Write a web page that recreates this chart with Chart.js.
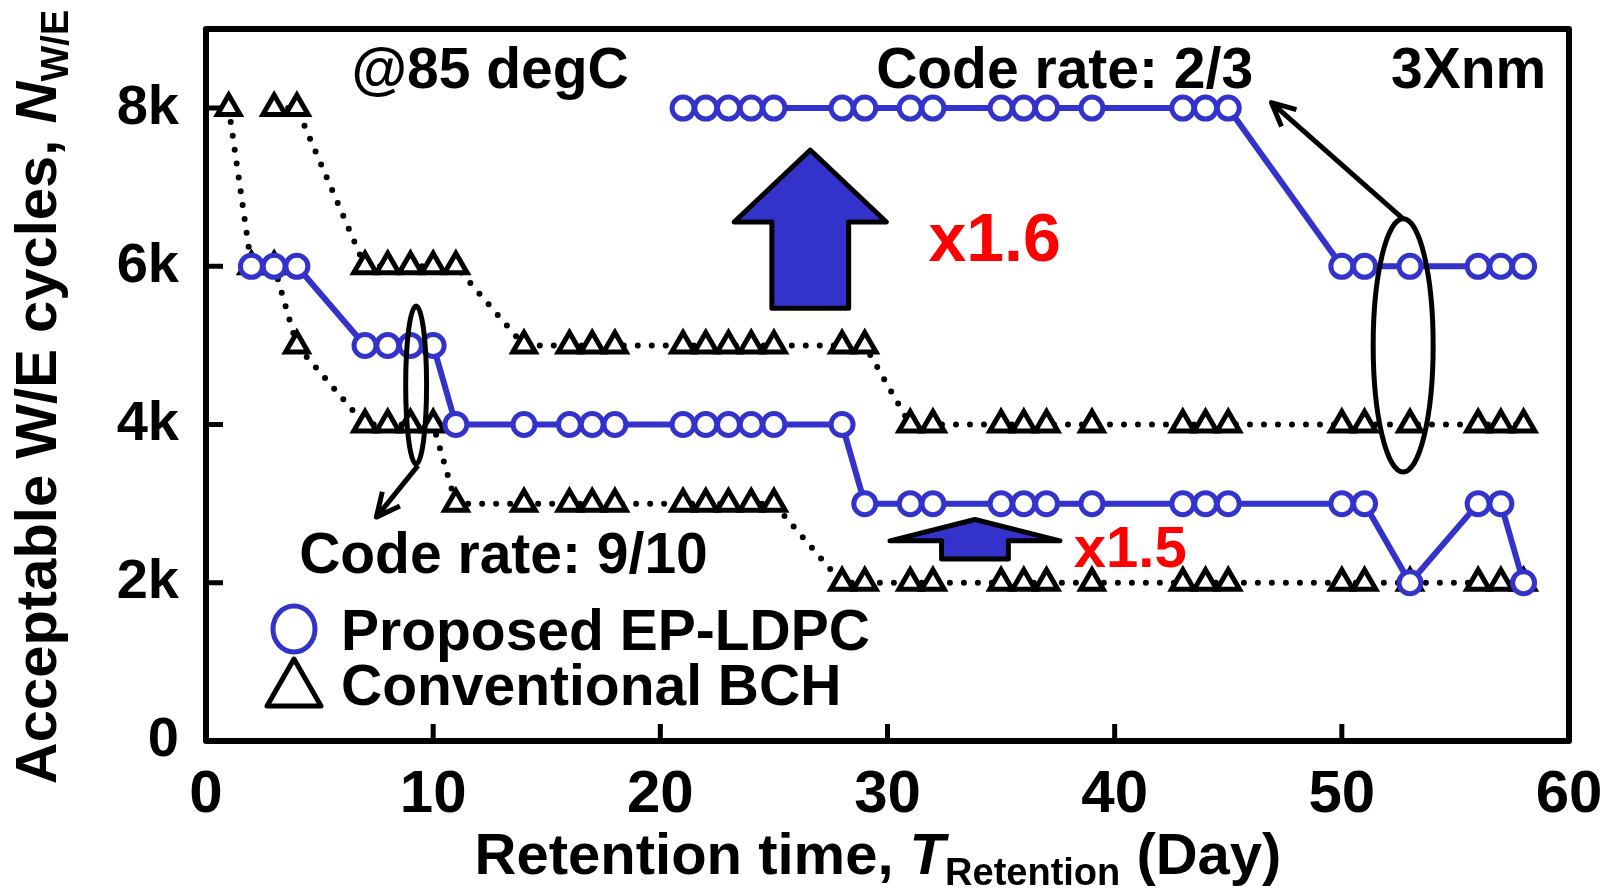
<!DOCTYPE html>
<html>
<head>
<meta charset="utf-8">
<script src="https://cdn.jsdelivr.net/npm/chart.js@4.4.1/dist/chart.umd.min.js"></script>
<style>
  html, body { margin: 0; padding: 0; background: #fff; }
  #wrap { width: 1619px; height: 889px; }
</style>
</head>
<body>
<div id="wrap"><canvas id="weChart"></canvas></div>
<script>
const FONT = '"Liberation Sans", Arial, sans-serif';
const BLUE = '#3333CC';

const xTicks = [0, 10, 20, 30, 40, 50, 60];
const yTicks = [0, 2000, 4000, 6000, 8000];

// Proposed EP-LDPC, code rate 9/10
const ldpcDays910 = [2, 3, 4, 7, 8, 9, 10, 11, 14, 16, 17, 18, 21, 22, 23, 24, 25, 28,
  29, 31, 32, 35, 36, 37, 39, 43, 44, 45, 50, 51, 53, 56, 57, 58];
const ldpcCycles910 = [6000, 6000, 6000, 5000, 5000, 5000, 5000, 4000, 4000, 4000, 4000, 4000,
  4000, 4000, 4000, 4000, 4000, 4000, 3000, 3000, 3000, 3000, 3000, 3000, 3000, 3000, 3000, 3000,
  3000, 3000, 2000, 3000, 3000, 2000];

// Proposed EP-LDPC, code rate 2/3
const ldpcDays23 = [21, 22, 23, 24, 25, 28, 29, 31, 32, 35, 36, 37, 39, 43, 44, 45, 50, 51, 53, 56, 57, 58];
const ldpcCycles23 = [8000, 8000, 8000, 8000, 8000, 8000, 8000, 8000, 8000, 8000, 8000, 8000, 8000,
  8000, 8000, 8000, 6000, 6000, 6000, 6000, 6000, 6000];

// Conventional BCH, code rate 9/10
const bchDays910 = [1, 2, 3, 4, 7, 8, 9, 10, 11, 14, 16, 17, 18, 21, 22, 23, 24, 25, 28, 29,
  31, 32, 35, 36, 37, 39, 43, 44, 45, 50, 51, 53, 56, 57, 58];
const bchCycles910 = [8000, 6000, 6000, 5000, 4000, 4000, 4000, 4000, 3000, 3000, 3000, 3000, 3000,
  3000, 3000, 3000, 3000, 3000, 2000, 2000, 2000, 2000, 2000, 2000, 2000, 2000, 2000, 2000, 2000,
  2000, 2000, 2000, 2000, 2000, 2000];

// Conventional BCH, code rate 2/3
const bchDays23 = [3, 4, 7, 8, 9, 10, 11, 14, 16, 17, 18, 21, 22, 23, 24, 25, 28, 29,
  31, 32, 35, 36, 37, 39, 43, 44, 45, 50, 51, 53, 56, 57, 58];
const bchCycles23 = [8000, 8000, 6000, 6000, 6000, 6000, 6000, 5000, 5000, 5000, 5000, 5000, 5000,
  5000, 5000, 5000, 5000, 5000, 4000, 4000, 4000, 4000, 4000, 4000, 4000, 4000, 4000, 4000, 4000,
  4000, 4000, 4000, 4000];

const pts = (xs, ys) => xs.map((x, i) => ({ x, y: ys[i] }));

const ldpcStyle = {
  borderColor: BLUE, borderWidth: 6,
  pointStyle: 'circle', pointRadius: 11, pointBorderWidth: 5,
  pointBorderColor: BLUE, pointBackgroundColor: '#fff', tension: 0
};
const bchStyle = {
  borderColor: '#000', borderWidth: 6, borderDash: [0, 14], borderCapStyle: 'round',
  pointStyle: 'triangle', pointRadius: 13, pointBorderWidth: 5,
  pointBorderColor: '#000', pointBackgroundColor: '#fff', tension: 0
};

function richText(ctx, parts, x, y) {
  let total = 0;
  parts.forEach(p => { ctx.font = p.font; p.w = ctx.measureText(p.text).width; total += p.w; });
  let cx = x - total / 2;
  ctx.textAlign = 'left';
  ctx.textBaseline = 'alphabetic';
  parts.forEach(p => { ctx.font = p.font; ctx.fillText(p.text, cx, y + (p.dy || 0)); cx += p.w; });
}

function arrowLine(ctx, x1, y1, x2, y2) {
  const a = Math.atan2(y2 - y1, x2 - x1), h = 26;
  ctx.beginPath();
  ctx.moveTo(x1, y1); ctx.lineTo(x2, y2);
  ctx.moveTo(x2 - h * Math.cos(a - 0.45), y2 - h * Math.sin(a - 0.45));
  ctx.lineTo(x2, y2);
  ctx.lineTo(x2 - h * Math.cos(a + 0.45), y2 - h * Math.sin(a + 0.45));
  ctx.stroke();
}

function blockArrow(ctx, X, Y, a) {
  ctx.beginPath();
  ctx.moveTo(X(a.xc), Y(a.tip));
  ctx.lineTo(X(a.xc + a.hw), Y(a.base));
  ctx.lineTo(X(a.xc + a.sw), Y(a.base));
  ctx.lineTo(X(a.xc + a.sw), Y(a.bottom));
  ctx.lineTo(X(a.xc - a.sw), Y(a.bottom));
  ctx.lineTo(X(a.xc - a.sw), Y(a.base));
  ctx.lineTo(X(a.xc - a.hw), Y(a.base));
  ctx.closePath();
  ctx.fillStyle = BLUE;
  ctx.fill();
  ctx.lineWidth = 5;
  ctx.strokeStyle = '#000';
  ctx.stroke();
}

const decorations = {
  id: 'decorations',
  afterDraw(chart) {
    const ctx = chart.ctx;
    const { left, right, top, bottom } = chart.chartArea;
    const X = v => chart.scales.x.getPixelForValue(v);
    const Y = v => chart.scales.y.getPixelForValue(v);
    ctx.save();
    ctx.strokeStyle = '#000';
    ctx.fillStyle = '#000';
    ctx.lineCap = 'butt';

    // frame and inward ticks
    ctx.lineWidth = 6;
    ctx.lineJoin = 'round';
    ctx.strokeRect(left, top, right - left, bottom - top);
    ctx.lineWidth = 5;
    ctx.beginPath();
    xTicks.slice(1, -1).forEach(v => { ctx.moveTo(X(v), bottom); ctx.lineTo(X(v), bottom - 17); });
    yTicks.slice(1).forEach(v => { ctx.moveTo(left, Y(v)); ctx.lineTo(left + 17, Y(v)); });
    ctx.stroke();

    // axis titles
    ctx.fillStyle = '#000';
    richText(ctx, [
      { text: 'Retention time, ', font: 'bold 58px ' + FONT },
      { text: 'T', font: 'italic bold 58px ' + FONT },
      { text: 'Retention', font: 'bold 38px ' + FONT, dy: 11 },
      { text: ' (Day)', font: 'bold 58px ' + FONT }
    ], 878, 874);
    ctx.save();
    ctx.translate(56, 397);
    ctx.rotate(-Math.PI / 2);
    richText(ctx, [
      { text: 'Acceptable W/E cycles, ', font: 'bold 58px ' + FONT },
      { text: 'N', font: 'italic bold 58px ' + FONT },
      { text: 'W/E', font: 'bold 38px ' + FONT, dy: 12 }
    ], 0, 0);
    ctx.restore();

    // text annotations
    ctx.font = 'bold 57px ' + FONT;
    ctx.textBaseline = 'alphabetic';
    ctx.textAlign = 'left';
    ctx.fillText('@85 degC', X(6.4), Y(8250));
    ctx.fillText('Code rate: 2/3', X(29.5), Y(8250));
    ctx.fillText('Code rate: 9/10', X(4.1), Y(2120));
    ctx.textAlign = 'right';
    ctx.fillText('3Xnm', X(59.0), Y(8250));
    ctx.textAlign = 'left';
    ctx.fillStyle = '#FF0000';
    ctx.font = 'bold 68px ' + FONT;
    ctx.fillText('x1.6', X(31.8), Y(6070));
    ctx.font = 'bold 58px ' + FONT;
    ctx.fillText('x1.5', X(38.2), Y(2200));

    // block arrows
    blockArrow(ctx, X, Y, { xc: 26.6, hw: 3.35, sw: 1.69, tip: 7470, base: 6560, bottom: 5470 });
    blockArrow(ctx, X, Y, { xc: 33.85, hw: 3.74, sw: 1.47, tip: 2800, base: 2530, bottom: 2300 });

    // ellipses with pointer arrows
    ctx.strokeStyle = '#000';
    ctx.lineWidth = 5;
    ctx.beginPath();
    ctx.ellipse(X(9.25), Y(4500), X(9.71) - X(9.25), Y(4500) - Y(5500), 0, 0, Math.PI * 2);
    ctx.stroke();
    arrowLine(ctx, X(9.33), Y(3480), X(7.5), Y(2830));
    ctx.beginPath();
    ctx.ellipse(X(52.7), Y(5000), X(54.02) - X(52.7), Y(5000) - Y(6600), 0, 0, Math.PI * 2);
    ctx.stroke();
    arrowLine(ctx, X(52.7), Y(6600), X(46.9), Y(8070));

    // legend
    const lx = left + 88;
    ctx.strokeStyle = BLUE;
    ctx.lineWidth = 5;
    ctx.fillStyle = '#fff';
    ctx.beginPath();
    ctx.ellipse(lx, 629, 21, 23, 0, 0, Math.PI * 2);
    ctx.fill();
    ctx.stroke();
    ctx.strokeStyle = '#000';
    ctx.lineJoin = 'round';
    ctx.beginPath();
    ctx.moveTo(lx, 659);
    ctx.lineTo(lx + 27, 706);
    ctx.lineTo(lx - 27, 706);
    ctx.closePath();
    ctx.stroke();
    ctx.fillStyle = '#000';
    ctx.font = 'bold 57px ' + FONT;
    ctx.textAlign = 'left';
    ctx.fillText(chart.data.datasets[0].label, lx + 47, 650);
    ctx.fillText(chart.data.datasets[2].label, lx + 47, 705);
    ctx.restore();
  }
};

new Chart(document.getElementById('weChart'), {
  type: 'line',
  data: {
    datasets: [
      { label: 'Proposed EP-LDPC', data: pts(ldpcDays910, ldpcCycles910), ...ldpcStyle },
      { label: 'Proposed EP-LDPC (2/3)', data: pts(ldpcDays23, ldpcCycles23), ...ldpcStyle },
      { label: 'Conventional BCH', data: pts(bchDays910, bchCycles910), ...bchStyle },
      { label: 'Conventional BCH (2/3)', data: pts(bchDays23, bchCycles23), ...bchStyle }
    ]
  },
  options: {
    responsive: true,
    maintainAspectRatio: false,
    animation: false,
    layout: { padding: { left: 0, top: 29, right: 50, bottom: 0 } },
    plugins: {
      legend: { display: false },
      tooltip: { enabled: false }
    },
    scales: {
      x: {
        type: 'linear', min: 0, max: 60,
        afterFit: s => { s.height = 148; s.paddingLeft = 0; s.paddingRight = 0; },
        afterBuildTicks: s => { s.ticks = xTicks.map(v => ({ value: v })); },
        grid: { display: false },
        border: { display: false },
        ticks: { color: '#000', padding: 10, maxRotation: 0, font: { family: FONT, size: 60, weight: 'bold' } }
      },
      y: {
        min: 0, max: 9000,
        afterFit: s => { s.width = 206; s.paddingTop = 0; s.paddingBottom = 0; },
        afterBuildTicks: s => { s.ticks = yTicks.map(v => ({ value: v })); },
        grid: { display: false },
        border: { display: false },
        ticks: {
          color: '#000', padding: 19, font: { family: FONT, size: 56, weight: 'bold' },
          callback: v => v === 0 ? '0' : (v / 1000) + 'k'
        }
      }
    }
  },
  plugins: [decorations]
});
</script>
</body>
</html>
